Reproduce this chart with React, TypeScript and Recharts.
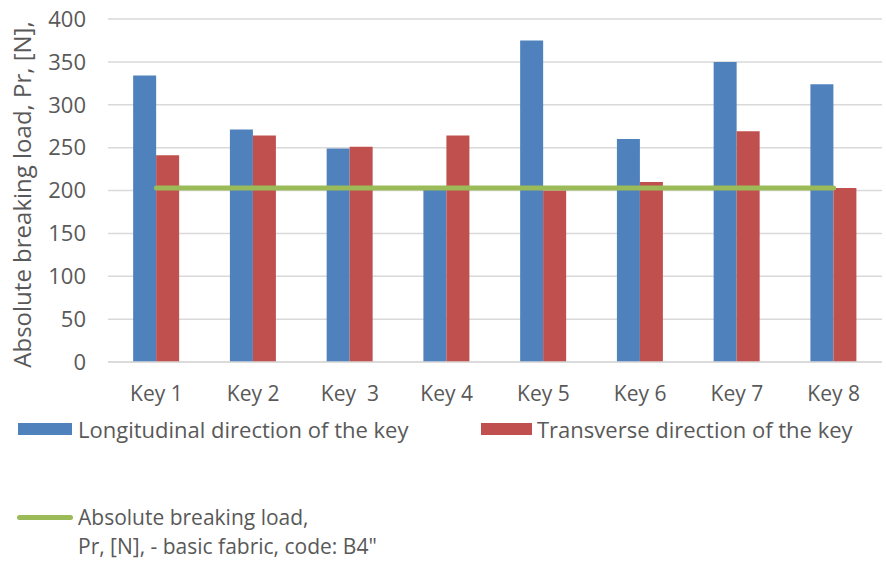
import React from 'react';
import { ComposedChart, Bar, Line, XAxis, YAxis, CartesianGrid } from 'recharts';

// values
const keys = ['Key 1', 'Key 2', 'Key \u00A03', 'Key 4', 'Key 5', 'Key 6', 'Key 7', 'Key 8'];
const longitudinal = [334, 271, 249, 201, 375, 260, 350, 324];
const transverse = [241, 264, 251, 264, 200, 210, 269, 203];
const basicFabric = [203, 203, 203, 203, 203, 203, 203, 203];
const yTicks = [0, 50, 100, 150, 200, 250, 300, 350, 400];

const data = keys.map((name, i) => ({
    name,
    longitudinal: longitudinal[i],
    transverse: transverse[i],
    basic: basicFabric[i],
}));

const FONT = '"Open Sans", sans-serif';
const TEXT = '#595959';

const legendText: React.CSSProperties = {
    position: 'absolute',
    fontFamily: FONT,
    fontSize: 22,
    color: TEXT,
    lineHeight: '26px',
    whiteSpace: 'nowrap',
};

export default function App() {
    return (
        <div style={{ width: 886, height: 564, position: 'relative', background: '#fff' }}>
            <style>{`body{margin:0}`}</style>
            <ComposedChart
                width={886}
                height={412}
                data={data}
                margin={{ top: 19, right: 4, bottom: 12, left: 0 }}
                barCategoryGap="26%"
                barGap={0}
            >
                <CartesianGrid vertical={false} stroke="#d9d9d9" strokeWidth={1.5} />
                <XAxis
                    dataKey="name"
                    height={38}
                    axisLine={{ stroke: '#d9d9d9', strokeWidth: 1.5 }}
                    tickLine={false}
                    tickMargin={18}
                    tick={{ fill: TEXT, fontSize: 21, fontFamily: FONT }}
                    interval={0}
                />
                <YAxis
                    width={108}
                    domain={[0, 400]}
                    ticks={yTicks}
                    axisLine={false}
                    tickLine={false}
                    tickMargin={16}
                    tick={{ fill: TEXT, fontSize: 22, fontFamily: FONT }}
                    label={{
                        value: 'Absolute breaking load, Pr, [N],',
                        angle: -90,
                        position: 'center',
                        dx: -32,
                        dy: 4,
                        style: { fill: TEXT, fontSize: 24, fontFamily: FONT, textAnchor: 'middle' },
                    }}
                />
                <Bar dataKey="longitudinal" fill="#4F81BD" isAnimationActive={false} />
                <Bar dataKey="transverse" fill="#C0504D" isAnimationActive={false} />
                <Line
                    type="linear"
                    dataKey="basic"
                    stroke="#9BBB59"
                    strokeWidth={5}
                    strokeLinecap="round"
                    dot={false}
                    activeDot={false}
                    isAnimationActive={false}
                />
            </ComposedChart>

            {/* legend */}
            <div style={{ position: 'absolute', left: 18, top: 423, width: 54, height: 12, background: '#4F81BD' }} />
            <div style={{ ...legendText, left: 78, top: 416 }}>Longitudinal direction of the key</div>
            <div style={{ position: 'absolute', left: 481, top: 423, width: 51, height: 12, background: '#C0504D' }} />
            <div style={{ ...legendText, left: 537, top: 416 }}>Transverse direction of the key</div>
            <div style={{ position: 'absolute', left: 17, top: 515, width: 56, height: 5, borderRadius: 3, background: '#9BBB59' }} />
            <div style={{ ...legendText, fontSize: 21, lineHeight: '24px', left: 78, top: 505 }}>Absolute breaking load,</div>
            <div style={{ ...legendText, fontSize: 21, lineHeight: '24px', left: 78, top: 534 }}>Pr, [N], - basic fabric, code: B4"</div>
        </div>
    );
}
